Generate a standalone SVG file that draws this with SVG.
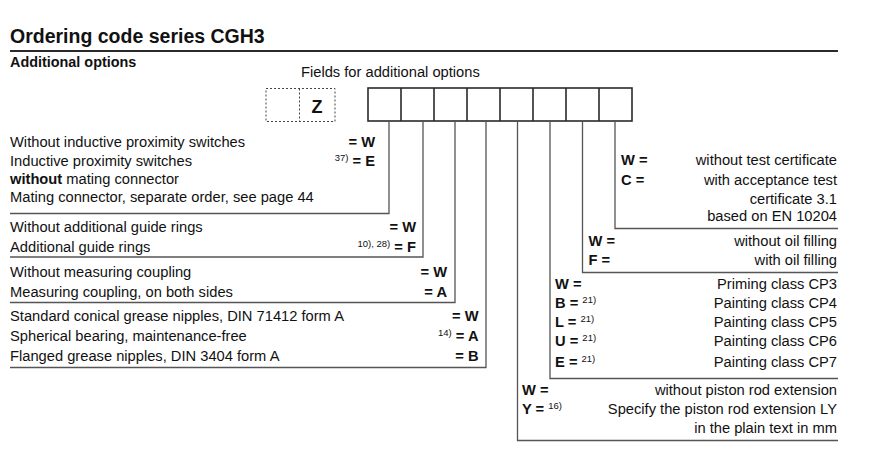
<svg xmlns="http://www.w3.org/2000/svg" width="872" height="449" viewBox="0 0 872 449">
<style>
text{font-family:"Liberation Sans",Arial,Helvetica,sans-serif;fill:#111;font-size:14.7px}
.b{font-weight:bold}
.sup{font-size:9.5px;font-weight:normal}
.e{text-anchor:end}
.box{fill:#fff;stroke:#2a2a2a;stroke-width:1.6}
.dash{fill:none;stroke:#444;stroke-width:1;stroke-dasharray:2 2}
.con{fill:none;stroke:#555;stroke-width:1.3}
</style>
<rect width="872" height="449" fill="#fff"/>
<g id="title">
<text x="10" y="43" class="b" style="font-size:19.5px">Ordering code series CGH3</text>
<line x1="10" y1="51" x2="838" y2="51" stroke="#2a2a2a" stroke-width="2"/>
<text x="10" y="67" class="b" style="font-size:14.4px">Additional options</text>
</g>
<g id="fields">
<text x="301" y="77">Fields for additional options</text>
<rect x="266" y="88.5" width="69" height="33" class="dash"/>
<line x1="299.5" y1="88.5" x2="299.5" y2="121.5" class="dash"/>
<text x="317" y="112.5" class="b" style="font-size:18px;text-anchor:middle">Z</text>
<rect x="368" y="88" width="264" height="33" class="box"/>
<path d="M401 88V121M434 88V121M467 88V121M500 88V121M533 88V121M566 88V121M599 88V121" stroke="#2a2a2a" stroke-width="1.6"/>
</g>
<g id="connectors">
<path class="con" d="M389 121V213.5H10"/>
<path class="con" d="M423 121V257H10"/>
<path class="con" d="M455 121V302.5H10"/>
<path class="con" d="M486 121V367.5H10"/>
<path class="con" d="M517.5 121V440.5H838"/>
<path class="con" d="M550 121V378.5H838"/>
<path class="con" d="M582.5 121V272.5H838"/>
<path class="con" d="M615 121V228.5H838"/>
</g>
<g id="proximity-switches">
<text x="10" y="146.5">Without inductive proximity switches</text>
<text x="10" y="165.5">Inductive proximity switches</text>
<text x="10" y="184"><tspan class="b">without</tspan> mating connector</text>
<text x="10" y="202">Mating connector, separate order, see page 44</text>
<text x="375" y="146.5" class="b e">= W</text>
<text x="375" y="165.5" class="b e"><tspan class="sup" dy="-5">37)</tspan><tspan dy="5"> = E</tspan></text>
</g>
<g id="guide-rings">
<text x="10" y="232">Without additional guide rings</text>
<text x="10" y="252">Additional guide rings</text>
<text x="416" y="232" class="b e">= W</text>
<text x="416" y="252" class="b e"><tspan class="sup" dy="-5">10), 28)</tspan><tspan dy="5"> = F</tspan></text>
</g>
<g id="measuring-coupling">
<text x="10" y="277">Without measuring coupling</text>
<text x="10" y="297">Measuring coupling, on both sides</text>
<text x="447" y="277" class="b e">= W</text>
<text x="447" y="297" class="b e">= A</text>
</g>
<g id="grease-nipples">
<text x="10" y="321">Standard conical grease nipples, DIN 71412 form A</text>
<text x="10" y="341">Spherical bearing, maintenance-free</text>
<text x="10" y="361">Flanged grease nipples, DIN 3404 form A</text>
<text x="478.5" y="321" class="b e">= W</text>
<text x="478.5" y="341" class="b e"><tspan class="sup" dy="-5">14)</tspan><tspan dy="5"> = A</tspan></text>
<text x="478.5" y="361" class="b e">= B</text>
</g>
<g id="test-certificate">
<text x="621" y="165" class="b">W =</text>
<text x="621" y="185" class="b">C =</text>
<text x="837" y="165" class="e">without test certificate</text>
<text x="837" y="185" class="e">with acceptance test</text>
<text x="837" y="203.5" class="e">certificate 3.1</text>
<text x="837" y="221" class="e">based on EN 10204</text>
</g>
<g id="oil-filling">
<text x="588.5" y="245.5" class="b">W =</text>
<text x="588.5" y="264.5" class="b">F =</text>
<text x="837" y="245.5" class="e">without oil filling</text>
<text x="837" y="264.5" class="e">with oil filling</text>
</g>
<g id="painting">
<text x="555" y="288.5" class="b">W =</text>
<text x="555" y="307.5" class="b">B = <tspan class="sup" dy="-5">21)</tspan></text>
<text x="555" y="326.5" class="b">L = <tspan class="sup" dy="-5">21)</tspan></text>
<text x="555" y="346" class="b">U = <tspan class="sup" dy="-5">21)</tspan></text>
<text x="555" y="366.5" class="b">E = <tspan class="sup" dy="-5">21)</tspan></text>
<text x="837" y="288.5" class="e">Priming class CP3</text>
<text x="837" y="307.5" class="e">Painting class CP4</text>
<text x="837" y="326.5" class="e">Painting class CP5</text>
<text x="837" y="346" class="e">Painting class CP6</text>
<text x="837" y="366.5" class="e">Painting class CP7</text>
</g>
<g id="piston-rod-extension">
<text x="522" y="394.5" class="b">W =</text>
<text x="522" y="414" class="b">Y = <tspan class="sup" dy="-5">16)</tspan></text>
<text x="837" y="394.5" class="e">without piston rod extension</text>
<text x="837" y="414" class="e">Specify the piston rod extension LY</text>
<text x="837" y="432.5" class="e">in the plain text in mm</text>
</g>
</svg>
